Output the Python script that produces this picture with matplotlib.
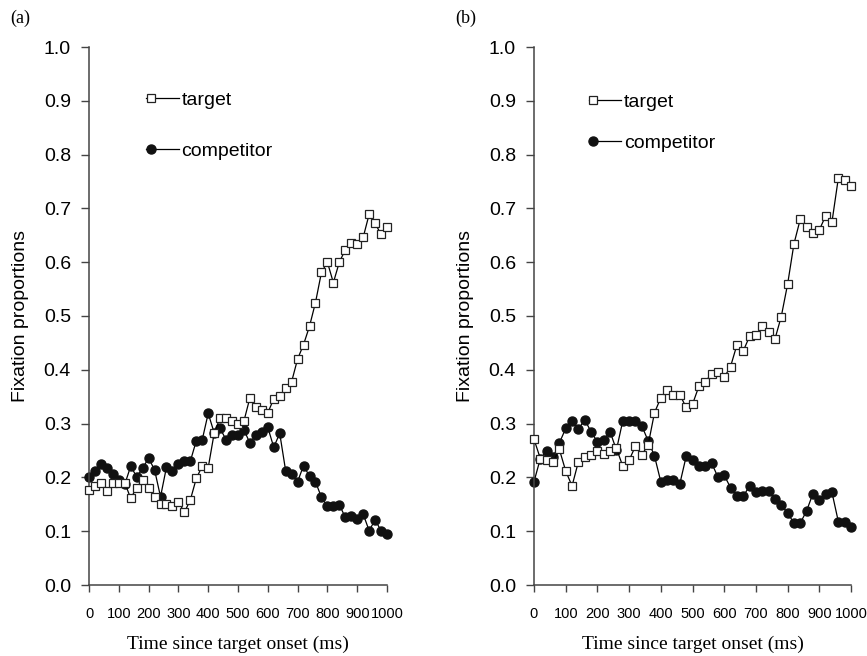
import matplotlib
matplotlib.use("Agg")
import matplotlib.pyplot as plt
from matplotlib.lines import Line2D
from matplotlib.legend_handler import HandlerLine2D
import numpy as np

# time bins (ms), 20 ms steps
time_ms = np.arange(0, 1001, 20)

# panel (a)
target_a = [0.177, 0.184, 0.189, 0.175, 0.189, 0.190, 0.190, 0.161, 0.181, 0.196,
            0.181, 0.163, 0.151, 0.151, 0.147, 0.155, 0.135, 0.158, 0.198, 0.221,
            0.218, 0.282, 0.311, 0.311, 0.305, 0.300, 0.305, 0.348, 0.330, 0.325,
            0.320, 0.346, 0.351, 0.366, 0.378, 0.420, 0.447, 0.481, 0.525, 0.581,
            0.600, 0.562, 0.600, 0.623, 0.635, 0.633, 0.646, 0.689, 0.672, 0.652,
            0.666]
competitor_a = [0.201, 0.212, 0.224, 0.217, 0.206, 0.195, 0.187, 0.221, 0.201, 0.217,
                0.236, 0.214, 0.164, 0.219, 0.211, 0.224, 0.230, 0.230, 0.268, 0.270,
                0.319, 0.283, 0.291, 0.270, 0.279, 0.279, 0.288, 0.264, 0.279, 0.285,
                0.293, 0.256, 0.282, 0.212, 0.206, 0.192, 0.222, 0.202, 0.192, 0.163,
                0.146, 0.146, 0.149, 0.126, 0.128, 0.122, 0.132, 0.101, 0.121, 0.101,
                0.094]

# panel (b)
target_b = [0.271, 0.235, 0.232, 0.229, 0.252, 0.212, 0.184, 0.229, 0.238, 0.242,
            0.250, 0.244, 0.250, 0.254, 0.221, 0.232, 0.258, 0.242, 0.260, 0.320,
            0.348, 0.362, 0.354, 0.354, 0.330, 0.336, 0.369, 0.378, 0.392, 0.395,
            0.386, 0.406, 0.446, 0.435, 0.462, 0.465, 0.481, 0.470, 0.457, 0.499,
            0.559, 0.634, 0.680, 0.666, 0.655, 0.660, 0.686, 0.675, 0.756, 0.753,
            0.742]
competitor_b = [0.192, 0.235, 0.250, 0.237, 0.264, 0.291, 0.304, 0.290, 0.307, 0.285,
                0.266, 0.270, 0.285, 0.251, 0.305, 0.304, 0.305, 0.296, 0.268, 0.240,
                0.192, 0.195, 0.195, 0.188, 0.239, 0.232, 0.221, 0.221, 0.227, 0.201,
                0.204, 0.181, 0.165, 0.165, 0.184, 0.172, 0.175, 0.175, 0.160, 0.149,
                0.134, 0.115, 0.115, 0.138, 0.170, 0.158, 0.170, 0.172, 0.118, 0.118,
                0.108]

x_ticks = list(range(0, 1001, 100))
y_ticks = [round(v * 0.1, 1) for v in range(11)]

SANS = ["Liberation Sans", "DejaVu Sans"]
SERIF = ["Liberation Serif", "DejaVu Serif"]
AXCOL = "#444444"


class MarkerLeftHandler(HandlerLine2D):
    # legend entry drawn as marker at the left end of a short line
    def create_artists(self, legend, orig_handle, xdescent, ydescent,
                       width, height, fontsize, trans):
        y = height / 2.0 - ydescent
        x0 = -xdescent
        seg = Line2D([x0, x0 + width], [y, y], color="black", lw=0.9)
        mk = Line2D([x0 + 3], [y], ls="none", marker=orig_handle.get_marker(),
                    ms=orig_handle.get_markersize(),
                    mfc=orig_handle.get_markerfacecolor(),
                    mec=orig_handle.get_markeredgecolor(),
                    mew=orig_handle.get_markeredgewidth())
        seg.set_transform(trans)
        mk.set_transform(trans)
        return [seg, mk]


def draw_panel(ax, target, competitor, leg_anchor, leg_spacing):
    ax.plot(time_ms, target, color="black", lw=0.9, marker="s", ms=5.5,
            mfc="white", mec="#222222", mew=0.9, label="target", zorder=3)
    ax.plot(time_ms, competitor, color="black", lw=0.9, marker="o", ms=6.5,
            mfc="#111111", mec="#111111", label="competitor", zorder=2)

    ax.set_xlim(0, 1000)
    ax.set_ylim(0, 1.0)
    ax.set_xticks(x_ticks)
    ax.set_yticks(y_ticks)
    ax.set_xticklabels([str(t) for t in x_ticks], family=SANS, fontsize=10.5)
    ax.set_yticklabels(["%.1f" % v for v in y_ticks], family=SANS, fontsize=14)
    ax.tick_params(axis="x", direction="out", length=5, width=1, color=AXCOL, pad=11)
    ax.tick_params(axis="y", direction="out", length=6, width=1, color=AXCOL, pad=7)
    for side in ["top", "right"]:
        ax.spines[side].set_visible(False)
    for side in ["left", "bottom"]:
        ax.spines[side].set_color(AXCOL)
        ax.spines[side].set_linewidth(1.1)
    for ln in ax.lines:
        ln.set_clip_on(False)

    ax.set_xlabel("Time since target onset (ms)", family=SERIF, fontsize=14)
    ax.set_ylabel("Fixation proportions", family=SANS, fontsize=14)
    ax.xaxis.set_label_coords(0.5, -0.094)

    ax.legend(loc="upper left", bbox_to_anchor=leg_anchor, frameon=False,
              prop={"family": SANS, "size": 14}, handlelength=1.65,
              handletextpad=0.15, labelspacing=leg_spacing,
              handler_map={Line2D: MarkerLeftHandler()})


fig = plt.figure(figsize=(8.67, 6.56), dpi=100)
ax_a = fig.add_axes([89 / 867, 71 / 656, 298 / 867, 538 / 656])
ax_b = fig.add_axes([534 / 867, 71 / 656, 317 / 867, 538 / 656])

draw_panel(ax_a, target_a, competitor_a, (0.134, 0.95), 1.7)
draw_panel(ax_b, target_b, competitor_b, (0.118, 0.946), 1.2)
ax_a.yaxis.set_label_coords(-0.201, 0.5)
ax_b.yaxis.set_label_coords(-0.189, 0.5)

fig.text(10 / 867, 1 - 18 / 656, "(a)", family=SERIF, fontsize=13, va="center")
fig.text(455 / 867, 1 - 18 / 656, "(b)", family=SERIF, fontsize=13, va="center")

fig.savefig("out.png", dpi=100)
